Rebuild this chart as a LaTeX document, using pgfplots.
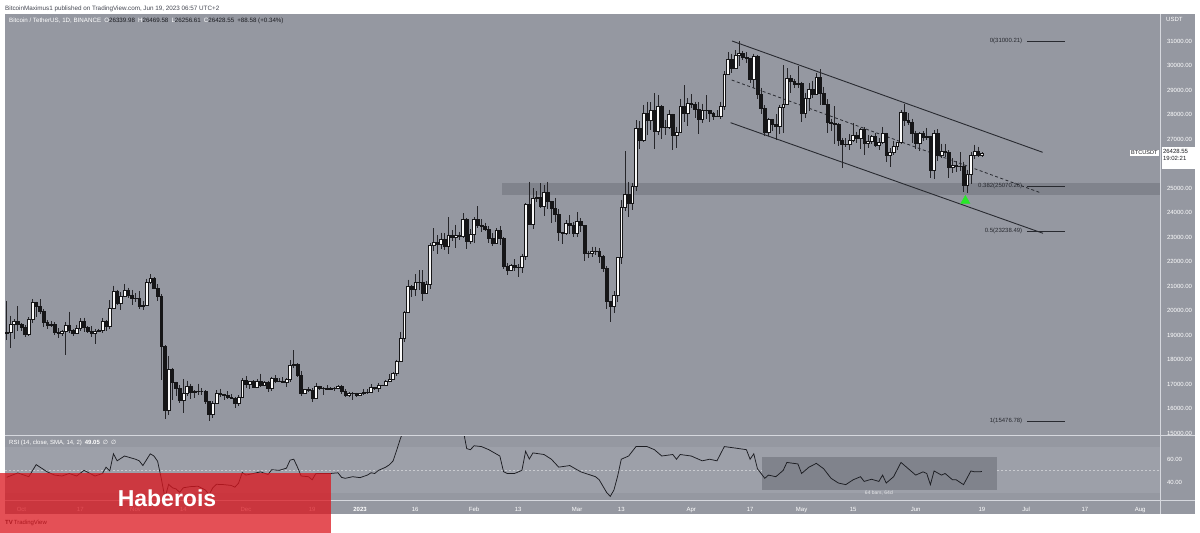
\documentclass[border=0pt]{standalone}
\usepackage{fontspec}
\setmainfont{Liberation Sans}
\newfontfamily\symfont{DejaVu Sans}
\usepackage{pgfplots}
\pgfplotsset{compat=1.18}
\usepackage{pgfplotstable}

\definecolor{panel}{RGB}{149,152,161}
\definecolor{rsiband}{RGB}{157,160,169}
\definecolor{zone}{RGB}{128,131,140}
\definecolor{sep}{RGB}{214,216,222}
\definecolor{ink}{RGB}{28,29,34}
\definecolor{wickc}{RGB}{38,38,42}
\definecolor{candown}{RGB}{22,22,24}
\definecolor{canup}{RGB}{250,250,250}
\definecolor{fibc}{RGB}{40,42,48}
\definecolor{txtdark}{RGB}{67,70,81}
\definecolor{hred}{RGB}{220,22,30}
\definecolor{tri}{RGB}{40,232,40}

\pgfdeclareplotmark{nomark}{}

% daily candles, day 0 = 1 Jan 2023
\pgfplotstableread{
d o h l c
-96 19080 20385 18816 19093
-95 19093 19790 18471 19426
-94 19426 19645 18843 19573
-93 19573 20185 19156 19431
-92 19431 19484 19159 19312
-91 19312 19395 18920 19044
-90 19044 19719 18959 19623
-89 19623 20475 19493 20336
-88 20336 20365 19730 20160
-87 20160 20456 19855 19955
-86 19955 20057 19320 19531
-85 19531 19621 19255 19417
-84 19417 19560 19320 19439
-83 19439 19527 19020 19131
-82 19131 19268 18860 19060
-81 19060 19224 18965 19155
-80 19155 19513 18190 19382
-79 19382 19951 19069 19185
-78 19185 19227 18975 19068
-77 19068 19425 19063 19268
-76 19268 19676 19160 19550
-75 19550 19706 19110 19334
-74 19334 19356 19070 19139
-73 19139 19347 18900 19053
-72 19053 19250 18650 19173
-71 19173 19257 19136 19208
-70 19208 19695 19071 19567
-69 19567 19601 19157 19345
-68 19345 20415 19241 20095
-67 20095 21020 20062 20771
-66 20771 20857 20215 20295
-65 20295 20750 20000 20595
-64 20595 21085 20552 20818
-63 20818 20931 20513 20635
-62 20635 20845 20237 20495
-61 20495 20700 20348 20485
-60 20485 20800 20048 20160
-59 20160 20394 20031 20209
-58 20209 21302 20180 21148
-57 21148 21480 21080 21300
-56 21300 21365 20880 20905
-55 20905 21069 20384 20591
-54 20591 20668 17166 18547
-53 18547 18587 15588 15922
-52 15922 18150 15754 17602
-51 17602 17660 16361 17070
-50 17070 17099 16521 16812
-49 16812 16950 16229 16330
-48 16330 17190 15815 16619
-47 16619 17134 16527 16900
-46 16900 17015 16378 16662
-45 16662 16741 16412 16692
-44 16692 17012 16546 16700
-43 16700 16820 16560 16700
-42 16700 16746 16180 16280
-41 16280 16292 15476 15781
-40 15781 16300 15600 16226
-39 16226 16750 16168 16603
-38 16603 16810 16461 16598
-37 16598 16605 16350 16522
-36 16522 16700 16400 16458
-35 16458 16600 16400 16428
-34 16428 16483 16000 16212
-33 16212 16548 16110 16442
-32 16442 17250 16428 17163
-31 17163 17320 16855 16978
-30 16978 17106 16790 17092
-29 17092 17150 16880 16886
-28 16886 17202 16878 17105
-27 17105 17424 16868 16966
-26 16966 17107 16906 17089
-25 17089 17142 16678 16836
-24 16836 17299 16733 17224
-23 17224 17360 17058 17128
-22 17128 17227 17092 17127
-21 17127 17266 17071 17085
-20 17085 17241 16871 17209
-19 17209 17962 17076 17775
-18 17775 18387 17660 17804
-17 17804 17847 17276 17357
-16 17357 17531 16527 16633
-15 16633 16800 16584 16777
-14 16777 16864 16667 16739
-13 16739 16819 16256 16438
-12 16438 17061 16398 16896
-11 16896 16925 16743 16824
-10 16824 16868 16560 16821
-9 16821 16955 16766 16778
-8 16778 16869 16764 16837
-7 16837 16862 16700 16830
-6 16830 16943 16789 16920
-5 16920 16972 16592 16707
-4 16707 16784 16465 16547
-3 16547 16664 16488 16633
-2 16633 16677 16333 16607
-1 16607 16644 16470 16542
0 16542 16628 16499 16617
1 16617 16799 16548 16673
2 16673 16778 16605 16675
3 16675 16991 16661 16851
4 16851 16879 16753 16832
5 16832 17041 16679 16951
6 16951 16977 16911 16955
7 16955 17177 16908 17092
8 17092 17398 17085 17196
9 17196 17499 17161 17446
10 17446 17991 17314 17934
11 17934 19117 17909 18869
12 18869 19992 18715 19910
13 19910 21258 19889 20977
14 20977 21050 20551 20880
15 20880 21474 20611 21170
16 21170 21648 20822 21161
17 21161 21650 20407 20689
18 20689 21192 20659 21087
19 21087 22755 20879 22676
20 22676 23365 22424 22784
21 22784 23078 22292 22707
22 22707 23180 22512 22917
23 22917 23162 22462 22632
24 22632 23816 22292 23060
25 23060 23282 22850 23009
26 23009 23500 22534 23074
27 23074 23189 22878 23023
28 23023 23960 22973 23743
29 23743 23785 22500 22827
30 22827 23320 22715 23125
31 23125 23812 22760 23733
32 23733 24255 23363 23493
33 23493 23715 23204 23431
34 23431 23587 23253 23327
35 23327 23433 22745 22933
36 22933 23158 22628 22763
37 22763 23350 22745 23264
38 23264 23452 22665 22940
39 22940 23005 21688 21797
40 21797 21940 21451 21625
41 21625 21907 21599 21862
42 21862 22090 21630 21783
43 21783 21890 21351 21773
44 21773 22320 21532 22199
45 22199 24380 22047 24324
46 24324 25250 23506 23518
47 23518 24980 23334 24566
48 24566 24877 24437 24631
49 24631 25192 24192 24272
50 24272 25121 23840 24843
51 24843 25250 24148 24452
52 24452 24476 23575 24183
53 24183 24600 23608 23940
54 23940 24132 22841 23185
55 23185 23219 22722 23157
56 23157 23689 23069 23554
57 23554 23881 23106 23492
58 23492 23600 23020 23141
59 23141 24000 23020 23628
60 23628 23780 23195 23465
61 23465 23476 22000 22354
62 22354 22410 22157 22346
63 22346 22610 22198 22430
64 22430 22603 22265 22410
65 22410 22534 21927 22197
66 22197 22268 21580 21705
67 21705 21818 20042 20363
68 20363 20370 19549 20187
69 20187 20792 19900 20633
70 20633 22185 20366 22163
71 22163 24500 21918 24197
72 24197 26500 24080 24746
73 24746 25250 23800 24375
74 24375 25190 24120 25055
75 25055 27757 24890 27423
76 27423 27725 26578 26965
77 26965 28390 26880 28038
78 28038 28528 27156 27767
79 27767 28500 27356 28175
80 28175 28868 26601 27307
81 27307 28800 27154 28333
82 28333 28390 27020 27493
83 27493 27784 27156 27494
84 27494 28200 27420 27994
85 27994 28040 26552 27139
86 27139 27500 26631 27268
87 27268 28650 27242 28348
88 28348 29184 27690 28033
89 28033 28659 27530 28478
90 28478 28822 28255 28411
91 28411 28530 27858 28199
92 28199 28500 27200 27790
93 27790 28444 27659 28169
94 28169 28776 27800 28176
95 28176 28186 27711 28044
96 28044 28100 27767 27925
97 27925 28175 27882 27947
98 27947 28530 27800 28333
99 28333 29770 28170 29653
100 29653 30550 29610 30235
101 30235 30486 29700 29895
102 29895 30620 29866 30400
103 30400 31000 29966 30485
104 30485 30595 30228 30318
105 30318 30550 30121 30315
106 30315 30320 29272 29445
107 29445 30485 29097 30397
108 30397 30412 28651 28823
109 28823 29095 28011 28245
110 28245 28373 27125 27262
111 27262 27877 27140 27817
112 27817 27820 27331 27591
113 27591 28000 26942 27514
114 27514 28400 27188 28307
115 28307 30020 27235 28422
116 28422 29890 28380 29473
117 29473 29599 28891 29340
118 29340 29454 29088 29248
119 29248 29960 29080 29268
120 29268 29338 27680 28068
121 28068 28879 27872 28669
122 28669 29266 28130 29027
123 29027 29379 28670 28838
124 28838 29677 28800 29506
125 29506 29839 28378 28848
126 28848 29138 28395 28430
127 28430 28631 27262 27669
128 27669 27830 27328 27628
129 27628 28327 26777 27599
130 27599 27636 26706 26968
131 26968 27055 25811 26805
132 26805 27030 26692 26784
133 26784 27200 26561 26930
134 26930 27663 26871 27172
135 27172 27299 26853 27033
136 27033 27465 26600 27405
137 27405 27485 26361 26822
138 26822 27183 26630 26890
139 26890 27155 26815 27103
140 27103 27265 26689 26748
141 26748 27045 26541 26850
142 26850 27495 26780 27226
143 27226 27257 26080 26334
144 26334 26632 25871 26477
145 26477 26932 26340 26719
146 26719 26887 26552 26868
147 26868 28193 26803 28085
148 28085 28447 27524 27745
149 27745 28045 27555 27702
150 27702 27834 26841 27219
151 27219 27346 26605 26819
152 26819 27300 26508 27249
153 27249 27317 26920 27069
154 27069 27455 26951 27116
155 27116 27130 25388 25728
156 25728 27355 25351 27231
157 27231 27391 26121 26339
158 26339 26809 26206 26499
159 26499 26776 26269 26477
160 26477 26533 25400 25841
161 25841 26210 25611 25925
162 25925 26095 25640 25903
163 25903 26450 25711 25895
164 25895 26080 24820 25128
165 25128 25750 24800 25576
166 25576 26480 25166 26328
167 26328 26770 26177 26511
168 26511 26687 26282 26340
169 26339.98 26469.58 26256.61 26428.55
}\candles

% RSI(14)
\pgfplotstableread{
d r
-96 44.1
-93 47.9
-90 44.6
-88 55.1
-85 48.8
-83 46.0
-81 45.2
-79 47.4
-77 45.2
-75 50.1
-72 45.2
-70 47.4
-69 52.9
-68 49.6
-67 64.5
-66 58.4
-64 62.6
-61 59.8
-60 58.4
-59 54.3
-57 64.5
-56 62.6
-55 58.0
-54 43.0
-53 26.0
-52 38.0
-51 35.0
-50 34.0
-49 31.0
-48 35.0
-46 36.0
-44 36.3
-42 33.0
-41 29.0
-40 35.0
-39 38.0
-37 37.7
-35 37.0
-34 35.5
-33 39.0
-32 48.2
-31 46.0
-29 47.4
-27 48.8
-25 46.5
-24 50.7
-22 50.1
-20 52.0
-19 59.0
-18 59.8
-17 53.0
-16 45.2
-14 44.6
-13 41.9
-12 47.4
-10 47.4
-8 47.4
-6 48.0
-5 44.0
-4 43.2
-2 44.6
0 43.8
2 46.0
3 48.0
4 47.4
5 50.1
7 52.9
8 55.0
9 58.4
10 68.0
11 78.0
12 86.0
13 90.0
15 91.0
17 85.0
19 92.0
22 90.0
25 89.0
28 86.0
29 69.0
30 68.1
31 71.5
33 70.8
35 68.1
38 62.6
39 49.0
40 47.4
42 47.4
44 50.1
45 66.7
46 60.0
47 65.3
50 63.9
52 59.8
54 52.9
57 54.3
60 48.8
64 44.6
65 41.9
67 31.0
68 27.5
69 33.0
70 45.0
71 59.8
73 62.6
75 70.8
78 70.8
80 68.1
82 62.6
85 63.9
86 59.8
87 63.9
90 62.6
93 58.4
95 59.8
97 58.4
99 70.8
102 69.5
105 68.1
106 59.8
107 64.5
108 51.5
110 43.2
111 46.0
113 44.6
115 50.1
116 57.0
119 55.7
120 47.4
122 52.9
124 56.2
126 51.5
128 43.2
130 39.1
132 37.7
134 41.9
136 44.6
137 40.5
139 42.4
141 40.5
142 46.0
143 39.1
145 44.6
147 57.0
148 54.3
151 46.0
153 48.8
154 47.4
155 37.7
156 49.6
158 46.0
159 47.4
161 41.9
162 41.9
164 37.7
166 49.6
167 48.8
169 49.05
}\rsi

\pgfplotsset{
  tvaxis/.style={
    scale only axis, width=1155pt,
    xmin=-96.47, xmax=217.39,
    axis line style={draw=none},
    major tick length=0pt,
    ticklabel style={font=\fontsize{6}{7}\selectfont, text=white},
    yticklabel pos=right,
    yticklabel style={anchor=west, xshift=3.5pt},
  },
  candles/.style={
    scatter, only marks, mark=nomark,
    point meta={\thisrow{c}>\thisrow{o}},
    visualization depends on={\thisrow{o}-\thisrow{c} \as \dopen},
    visualization depends on={\thisrow{h}-\thisrow{c} \as \dhigh},
    visualization depends on={\thisrow{l}-\thisrow{c} \as \dlow},
    scatter/@pre marker code/.append code={%
      \expandafter\pgfplotscolormapdefinemappedcolor\expandafter{\pgfplotspointmetatransformed}%
      \draw[wickc, line width=0.65pt] (axis direction cs:0,\dhigh) -- (axis direction cs:0,\dlow);
      \draw[candown, line width=0.5pt, fill=mapped color] (axis direction cs:-0.38,0) rectangle (axis direction cs:0.38,\dopen);
    },
  },
}

\begin{document}
\begin{tikzpicture}[x=1pt,y=1pt]
\path[use as bounding box] (0,0) rectangle (1200,533);
\fill[white] (0,0) rectangle (1200,533);
\fill[panel] (5,19) rectangle (1195,519);

% price panel
\begin{axis}[tvaxis,
  at={(5pt,97.5pt)}, anchor=south west, height=421.5pt,
  ymin=14898, ymax=32102,
  xtick=\empty,
  ytick={15000,16000,...,31000},
  yticklabels={15000.00,16000.00,17000.00,18000.00,19000.00,20000.00,21000.00,22000.00,23000.00,24000.00,25000.00,26000.00,27000.00,28000.00,29000.00,30000.00,31000.00},
  point meta min=0, point meta max=1,
  colormap={updown}{color=(candown) color=(canup)},
]
  % support zone
  \addplot[draw=none, fill=zone, forget plot] coordinates {
    (38.6,24714) (217.4,24714) (217.4,25204) (38.6,25204)};
  % candles
  \addplot[candles] table[x=d, y=c] {\candles};
  % descending channel
  \addplot[fibc, line width=0.9pt, forget plot] coordinates {(101.1,31000) (185.5,26457)};
  \addplot[fibc, line width=0.9pt, forget plot] coordinates {(100.7,27665) (185.6,23151)};
  \addplot[fibc, line width=0.8pt, dash pattern=on 3pt off 2.5pt, forget plot] coordinates {(101.0,29408) (184.8,24812)};
  % fibonacci levels
  \addplot[fibc, line width=0.8pt, forget plot] coordinates {(181.2,31000.21) (191.6,31000.21)};
  \addplot[fibc, line width=0.8pt, forget plot] coordinates {(181.2,25070.26) (191.6,25070.26)};
  \addplot[fibc, line width=0.8pt, forget plot] coordinates {(181.2,23238.49) (191.6,23238.49)};
  \addplot[fibc, line width=0.8pt, forget plot] coordinates {(181.2,15476.78) (191.6,15476.78)};
  \begin{scope}[every node/.style={anchor=east, inner sep=0pt, text=fibc, font=\fontsize{6}{7}\selectfont}]
    \node at (axis cs:180,31000.21) {0(31000.21)};
    \node at (axis cs:180,25070.26) {0.382(25070.26)};
    \node at (axis cs:180,23238.49) {0.5(23238.49)};
    \node at (axis cs:180,15476.78) {1(15476.78)};
  \end{scope}
  % bounce marker
  \addplot[only marks, mark=triangle*, mark size=5.3pt, mark options={fill=tri, draw=tri}, forget plot] coordinates {(164.5,24480)};
\end{axis}

% RSI panel
\begin{axis}[tvaxis,
  at={(5pt,32.5pt)}, anchor=south west, height=65pt,
  ymin=23.91, ymax=80.43,
  ytick={40,60}, yticklabels={40.00,60.00},
  xtick={-92,-76,-61,-48,-31,-13,0,15,31,43,59,71,90,106,120,134,151,169,181,197,212},
  xticklabels={Oct,17,Nov,14,Dec,19,\textbf{2023},16,Feb,13,Mar,13,Apr,17,May,15,Jun,19,Jul,17,Aug},
  xticklabel style={anchor=base, yshift=-11pt},
]
  \addplot[draw=none, fill=rsiband, forget plot] coordinates {
    (-96.47,30) (217.39,30) (217.39,70) (-96.47,70)};
  \addplot[white!45!rsiband, line width=0.45pt, dash pattern=on 2pt off 2pt, forget plot] coordinates {(-96.47,50) (217.39,50)};
  \addplot[draw=none, fill=zone, forget plot] coordinates {
    (109.2,33) (173,33) (173,61.7) (109.2,61.7)};
  \addplot[ink, line width=0.75pt, no markers] table[x=d, y=r] {\rsi};
  \node[text=white!75!panel, font=\fontsize{5}{6}\selectfont] at (axis cs:141,30.2) {64 bars, 64d};
\end{axis}

% panel separators
\draw[sep, line width=0.9pt] (1160.5,19) -- (1160.5,519);
\draw[sep, line width=0.9pt] (5,97.5) -- (1195,97.5);
\draw[sep, line width=0.9pt] (5,32.5) -- (1195,32.5);

% header texts
\node[anchor=west, inner sep=0pt, text=txtdark, font=\fontsize{6.3}{7}\selectfont] at (5,524.5)
  {BitcoinMaximus1 published on TradingView.com, Jun 19, 2023 06:57 UTC+2};
\node[anchor=west, inner sep=0pt, text=white, font=\fontsize{6.2}{7}\selectfont] at (9,512)
  {Bitcoin / TetherUS, 1D, BINANCE\enspace O\textcolor{ink}{26339.98}\enspace H\textcolor{ink}{26469.58}\enspace L\textcolor{ink}{26256.61}\enspace C\textcolor{ink}{26428.55}\enspace\textcolor{ink}{+88.58 (+0.34\%)}};
\node[anchor=west, inner sep=0pt, text=white, font=\fontsize{6}{7}\selectfont] at (1166,513.5) {USDT};
\node[anchor=west, inner sep=0pt, text=white, font=\fontsize{6}{7}\selectfont] at (9,90)
  {RSI (14, close, SMA, 14, 2)\enspace\textbf{49.05}\enspace{\symfont ∅}\enspace{\symfont ∅}};

% last price labels
\node[anchor=east, fill=white, text=ink, inner sep=1.2pt, font=\fontsize{5.6}{6}\selectfont] at (1159,380) {BTCUSDT};
\fill[white] (1161.5,364) rectangle (1195,385.5);
\node[anchor=north west, inner sep=1.3pt, text=ink, align=left, font=\fontsize{6}{7.2}\selectfont] at (1161.5,385.5) {26428.55\\19:02:21};

% watermark box
\node[anchor=west, inner sep=0pt, text=ink, font=\fontsize{6}{7}\selectfont] at (5,10) {\textbf{TV}\,TradingView};
\fill[hred, opacity=0.75] (0,0) rectangle (331,60);
\node[anchor=base, inner sep=0pt, text=white, font=\fontsize{23}{23}\selectfont\bfseries] at (167,27) {Haberois};
\end{tikzpicture}
\end{document}
